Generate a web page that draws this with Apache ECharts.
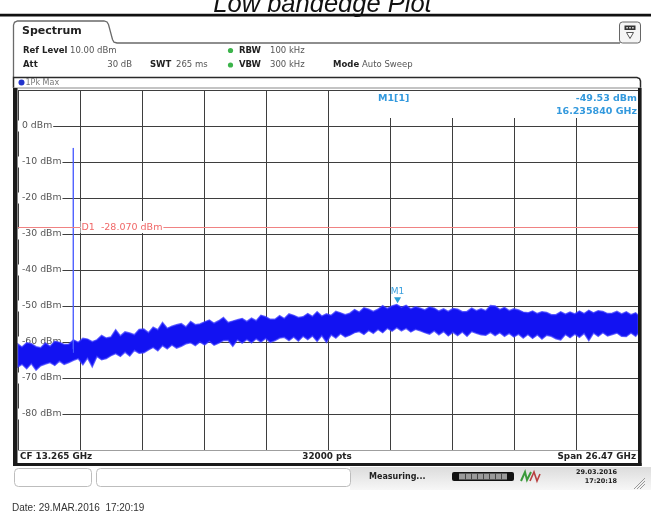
<!DOCTYPE html>
<html><head><meta charset="utf-8">
<script src="https://cdn.jsdelivr.net/npm/echarts@6/dist/echarts.min.js"></script>
<style>html,body{margin:0;padding:0;background:#fff}#c{width:651px;height:518px}</style>
</head><body><div id="c"></div>
<script>
// ---- sweep settings ----
const startGHz = 0.03, stopGHz = 26.5;
const refLevelDbm = 10, bottomDbm = -90, dbPerDiv = 10;
// ---- trace envelope (1Pk Max) ----
const noiseFreqGHz = [
 0.03,0.2,0.4,0.6,0.8,1.0,1.2,1.4,1.6,1.8,
 2.0,2.2,2.4,2.6,2.8,3.0,3.2,3.4,3.6,3.8,
 4.0,4.2,4.4,4.6,4.8,5.0,5.2,5.4,5.6,5.8,
 6.0,6.2,6.4,6.6,6.8,7.0,7.2,7.4,7.6,7.8,
 8.0,8.2,8.4,8.6,8.8,9.0,9.2,9.4,9.6,9.8,
 10.0,10.2,10.4,10.6,10.8,11.0,11.2,11.4,11.6,11.8,
 12.0,12.2,12.4,12.6,12.8,13.0,13.2,13.4,13.6,13.8,
 14.0,14.2,14.4,14.6,14.8,15.0,15.2,15.4,15.6,15.8,
 16.0,16.2,16.4,16.6,16.8,17.0,17.2,17.4,17.6,17.8,
 18.0,18.2,18.4,18.6,18.8,19.0,19.2,19.4,19.6,19.8,
 20.0,20.2,20.4,20.6,20.8,21.0,21.2,21.4,21.6,21.8,
 22.0,22.2,22.4,22.6,22.8,23.0,23.2,23.4,23.6,23.8,
 24.0,24.2,24.4,24.6,24.8,25.0,25.2,25.4,25.6,25.8,
 26.0,26.2,26.4,26.5];
const noisePeakDbm = [
 -60.6,-61.4,-60.2,-60.5,-61.3,-61.6,-60.3,-61.2,-59.8,-60.1,
 -60.7,-60.6,-59.4,-60.1,-59.0,-59.2,-59.9,-59.4,-58.2,-58.9,
 -58.6,-56.6,-58.3,-57.2,-57.5,-58.0,-56.5,-56.4,-57.4,-55.9,
 -56.6,-54.6,-56.2,-55.6,-55.2,-54.9,-55.8,-54.3,-55.2,-55.0,
 -54.4,-53.9,-54.8,-54.1,-53.2,-54.6,-54.2,-53.8,-53.5,-54.3,
 -53.4,-54.1,-52.6,-53.0,-53.7,-53.7,-52.7,-53.5,-52.2,-52.6,
 -53.2,-53.0,-52.1,-52.9,-51.6,-52.8,-52.2,-52.6,-51.5,-51.9,
 -52.4,-52.0,-51.0,-51.7,-50.5,-50.9,-51.5,-50.9,-49.9,-50.7,
 -50.0,-49.6,-50.4,-49.8,-50.8,-50.2,-50.6,-51.1,-50.3,-50.6,
 -51.4,-50.8,-51.5,-50.7,-50.9,-51.6,-51.5,-50.6,-51.3,-50.8,
 -51.3,-49.9,-50.0,-51.0,-50.4,-51.3,-50.8,-51.1,-51.7,-51.9,
 -51.4,-52.1,-51.6,-51.8,-52.4,-52.4,-51.6,-52.3,-51.7,-52.2,
 -51.4,-52.1,-51.2,-51.9,-51.3,-51.5,-52.1,-52.0,-51.5,-52.2,
 -51.6,-52.4,-51.9,-52.5];
const noiseFloorDbm = [
 -66.9,-66.2,-67.4,-66.0,-67.8,-66.6,-66.1,-65.7,-66.5,-65.3,
 -66.2,-65.7,-65.1,-64.6,-66.3,-64.4,-66.9,-64.0,-64.9,-64.6,
 -63.8,-63.2,-64.0,-62.8,-63.9,-62.3,-63.1,-63.0,-62.2,-61.5,
 -62.4,-61.0,-61.9,-60.8,-61.7,-61.2,-60.5,-60.2,-61.0,-60.0,
 -60.8,-59.8,-60.9,-60.3,-59.6,-59.5,-61.2,-59.4,-60.3,-59.3,
 -60.2,-59.1,-60.0,-59.0,-60.1,-59.6,-58.9,-58.7,-59.6,-58.6,
 -59.7,-58.4,-59.3,-58.3,-59.8,-58.2,-60.1,-58.0,-58.9,-57.7,
 -58.6,-58.1,-57.4,-57.1,-57.9,-56.8,-57.6,-56.5,-57.4,-56.2,
 -57.0,-56.0,-56.9,-56.2,-57.2,-56.5,-56.9,-57.4,-57.8,-56.9,
 -58.0,-57.1,-58.3,-57.3,-58.2,-57.2,-58.4,-57.1,-57.6,-58.0,
 -58.1,-57.3,-58.2,-57.4,-58.4,-57.6,-58.6,-57.8,-58.9,-57.9,
 -59.0,-58.0,-59.2,-58.1,-58.4,-59.1,-59.4,-57.9,-58.8,-57.8,
 -58.7,-57.6,-59.6,-57.5,-58.4,-57.4,-58.3,-57.9,-57.5,-58.4,
 -58.5,-57.5,-58.4,-57.6];
// carrier spike near 2.39 GHz
const spikeFreqGHz = [2.384, 2.387, 2.390, 2.393, 2.396];
const spikeDbm     = [-62.0, -50.5, -6.1, -52.0, -63.0];
// marker and display line
const markerFreqGHz = 16.235840, markerDbm = -49.53;
const displayLineDbm = -28.070;
// info texts
const cfText = 'CF 13.265 GHz', ptsText = '32000 pts', spanText = 'Span 26.47 GHz';

const F = '"DejaVu Sans", Verdana, sans-serif';
function T(x, y, text, o) {
  o = o || {};
  return { type: 'text', x: x, y: y, z: o.z || 20,
    style: { text: text, fill: o.color || '#222',
      font: (o.italic ? 'italic ' : '') + (o.bold ? 'bold ' : '') + (o.size || 8.5) + 'px ' + (o.family || F),
      textAlign: o.align || 'left', align: o.align || 'left',
      textVerticalAlign: 'middle', verticalAlign: 'middle' } };
}
function R(x, y, w, h, fill, o) {
  o = o || {};
  return { type: 'rect', z: o.z || 15, shape: { x: x, y: y, width: w, height: h, r: o.r || 0 },
    style: { fill: fill, stroke: o.stroke || null, lineWidth: o.lw || 1 } };
}
function PL(points, stroke, lw, z) {
  return { type: 'polyline', z: z || 13, shape: { points: points }, style: { stroke: stroke, lineWidth: lw || 1, fill: null } };
}

const chart = echarts.init(document.getElementById('c'), null, { renderer: 'canvas' });
const divGHz = (stopGHz - startGHz) / 10;

const elements = [
  T(322.5, 4.6, 'Low bandedge Plot', { italic: true, size: 25.5, family: '"Liberation Sans", Arial, sans-serif', color: '#111', align: 'center', z: 1 }),
  R(0, 13.8, 651, 2.6, '#111', { z: 2 }),
  PL([[13.5, 77], [13.5, 25], [14.5, 22.3], [17.5, 21], [104, 21], [107, 22], [108.5, 24.5], [112.5, 39.5], [114, 42.2], [117, 43], [620, 43]], '#6a6a6a', 1.3, 12),
  R(619.5, 22, 21, 21, '#f5f5f5', { stroke: '#666', r: 3, z: 12 }),
  R(624.5, 25.5, 11, 4.5, '#333', { z: 13 }),
  R(626.3, 27, 1.6, 1.6, '#ddd', { z: 14 }), R(629.2, 27, 1.6, 1.6, '#ddd', { z: 14 }), R(632.1, 27, 1.6, 1.6, '#ddd', { z: 14 }),
  { type: 'polygon', z: 13, shape: { points: [[626.5, 32.5], [633.5, 32.5], [630, 38.5]] }, style: { fill: '#fff', stroke: '#555', lineWidth: 1 } },
  T(22, 31.5, 'Spectrum', { bold: true, size: 11, color: '#222' }),
  T(23, 50.5, 'Ref Level', { bold: true }),
  T(70, 50.5, '10.00 dBm', { color: '#555' }),
  { type: 'circle', z: 15, shape: { cx: 230.5, cy: 50.5, r: 2.6 }, style: { fill: '#3cb44b' } },
  T(239, 50.5, 'RBW', { bold: true }),
  T(270, 50.5, '100 kHz', { color: '#555' }),
  T(23, 65, 'Att', { bold: true }),
  T(132, 65, '30 dB', { color: '#555', align: 'right' }),
  T(150, 65, 'SWT', { bold: true }),
  T(176, 65, '265 ms', { color: '#555' }),
  { type: 'circle', z: 15, shape: { cx: 230.5, cy: 65, r: 2.6 }, style: { fill: '#3cb44b' } },
  T(239, 65, 'VBW', { bold: true }),
  T(270, 65, '300 kHz', { color: '#555' }),
  T(333, 65, 'Mode', { bold: true }),
  T(362, 65, 'Auto Sweep', { color: '#555' }),
  // trace window frame
  PL([[13.5, 88], [13.5, 77.5], [637, 77.5], [639.5, 78.5], [640.5, 81], [640.5, 466]], '#2a2a2a', 1.5, 12),
  R(13, 87.5, 628, 1, '#8a8a8a', { z: 12 }),
  { type: 'circle', z: 15, shape: { cx: 21.5, cy: 82.5, r: 3 }, style: { fill: '#2233cc' } },
  T(25.5, 82.5, '1Pk Max', { size: 8, color: '#777' }),
  // marker info box
  R(372, 90.5, 265, 27.5, '#fff', { z: 1 }),
  T(378, 98.5, 'M1[1]', { bold: true, size: 9.5, color: '#3399dd' }),
  T(637, 98.5, markerDbm.toFixed(2) + ' dBm', { bold: true, size: 9.5, color: '#3399dd', align: 'right' }),
  T(637, 111.5, markerFreqGHz.toFixed(6) + ' GHz', { bold: true, size: 9.5, color: '#3399dd', align: 'right' }),
  // thick borders
  R(13, 88, 4.5, 378, '#1a1a1a', { z: 16 }),
  R(638, 88, 3.5, 378, '#1a1a1a', { z: 16 }),
  R(13, 463, 628.5, 3, '#1a1a1a', { z: 16 }),
  R(17.5, 450.5, 620.5, 12.5, '#fff', { z: 15 }),
  T(20, 457, cfText, { bold: true, size: 8.8 }),
  T(327, 457, ptsText, { bold: true, size: 8.8, align: 'center' }),
  T(636, 457, spanText, { bold: true, size: 8.8, align: 'right' }),
  // status bar
  { type: 'rect', z: 10, shape: { x: 350, y: 467, width: 301, height: 23 },
    style: { fill: { type: 'linear', x: 0, y: 0, x2: 0, y2: 1, colorStops: [{ offset: 0, color: '#dcdcdc' }, { offset: 1, color: '#f7f7f7' }] } } },
  R(14.5, 468.5, 77, 18, '#fff', { stroke: '#bdbdbd', r: 4, z: 12 }),
  R(96.5, 468.5, 254, 18, '#fff', { stroke: '#bdbdbd', r: 4, z: 12 }),
  T(369, 477, 'Measuring...', { bold: true, size: 8, color: '#222' }),
  R(452, 472, 62, 9, '#111', { r: 2, z: 12 }),
  R(459, 473.5, 48, 6, '#9a9a9a', { z: 13 }),
  R(465, 473.5, 1, 6, '#444', { z: 14 }), R(471, 473.5, 1, 6, '#444', { z: 14 }), R(477, 473.5, 1, 6, '#444', { z: 14 }),
  R(483, 473.5, 1, 6, '#444', { z: 14 }), R(489, 473.5, 1, 6, '#444', { z: 14 }), R(495, 473.5, 1, 6, '#444', { z: 14 }), R(501, 473.5, 1, 6, '#444', { z: 14 }),
  PL([[521, 481], [525, 472], [527, 480], [531, 472]], '#3a9a3a', 2, 13),
  PL([[530, 481], [534, 472], [537, 481], [540, 474]], '#b84040', 1.6, 13),
  T(617, 472.5, '29.03.2016', { bold: true, size: 6.5, color: '#222', align: 'right' }),
  T(617, 481.5, '17:20:18', { bold: true, size: 6.5, color: '#222', align: 'right' }),
  PL([[634, 489], [645, 478]], '#999', 1, 13),
  PL([[637, 489], [645, 481]], '#999', 1, 13),
  PL([[640, 489], [645, 484]], '#999', 1, 13),
  T(12, 508, 'Date: 29.MAR.2016  17:20:19', { size: 10, family: '"Liberation Sans", Arial, sans-serif', color: '#333' })
];

chart.setOption({
  animation: false,
  backgroundColor: '#fff',
  grid: { left: 18, right: 13, top: 90, bottom: 68, containLabel: false },
  xAxis: [
    { type: 'value', min: startGHz, max: stopGHz, show: false, splitLine: { show: false } },
    { type: 'value', min: 0, max: 10, interval: 1, position: 'bottom',
      axisLine: { show: false }, axisTick: { show: false }, axisLabel: { show: false },
      splitLine: { show: true, lineStyle: { color: '#3e3e3e', width: 1 } } }
  ],
  yAxis: {
    type: 'value', min: bottomDbm, max: refLevelDbm, interval: dbPerDiv, z: 1,
    axisLine: { show: false }, axisTick: { show: false },
    axisLabel: { inside: true, margin: 0, showMinLabel: false, showMaxLabel: false,
      formatter: v => v + ' dBm', color: '#555', fontSize: 9.3, fontFamily: F,
      backgroundColor: '#fff', padding: [1, 1, 1, 4] },
    splitLine: { show: true, lineStyle: { color: '#3e3e3e', width: 1 } }
  },
  series: [
    {
      type: 'custom', name: '1Pk Max', coordinateSystem: 'cartesian2d', xAxisIndex: 0, yAxisIndex: 0, z: 2,
      data: [[noiseFreqGHz[0], noisePeakDbm[0]]],
      renderItem: (params, api) => {
        const pts = [];
        for (let i = 0; i < noiseFreqGHz.length; i++) pts.push(api.coord([noiseFreqGHz[i], noisePeakDbm[i]]));
        for (let i = noiseFreqGHz.length - 1; i >= 0; i--) pts.push(api.coord([noiseFreqGHz[i], noiseFloorDbm[i]]));
        return { type: 'polygon', shape: { points: pts }, style: { fill: '#1212f2', stroke: 'rgba(55,55,255,0.75)', lineWidth: 1.5 } };
      },
      markPoint: {
        symbol: 'triangle', symbolSize: [7, 6], symbolRotate: 180, symbolOffset: [0, -4],
        itemStyle: { color: '#2a9fd6' },
        label: { show: true, position: 'top', distance: 1, formatter: 'M1', color: '#3aa0df', fontSize: 9, fontFamily: F },
        data: [{ coord: [markerFreqGHz, markerDbm] }]
      }
    },
    {
      type: 'line', name: 'carrier', xAxisIndex: 0, yAxisIndex: 0, z: 3,
      data: spikeFreqGHz.map((f, i) => [f, spikeDbm[i]]),
      symbol: 'none', lineStyle: { color: '#4a5cff', width: 1 },
      markLine: {
        silent: true, symbol: ['none', 'none'], animation: false,
        lineStyle: { color: '#f08282', width: 1, type: 'solid' },
        label: { show: false },
        data: [{ yAxis: displayLineDbm }]
      },
      markPoint: {
        symbol: 'rect', symbolSize: 1, itemStyle: { color: 'rgba(0,0,0,0)' },
        label: { show: true, position: 'right', distance: 0, formatter: 'D1  ' + displayLineDbm.toFixed(3) + ' dBm',
          color: '#f06868', fontSize: 9.5, fontFamily: F, backgroundColor: '#fff', padding: [1, 1] },
        data: [{ coord: [startGHz + divGHz, displayLineDbm] }]
      }
    }
  ],
  graphic: { elements: elements }
});
</script></body></html>
